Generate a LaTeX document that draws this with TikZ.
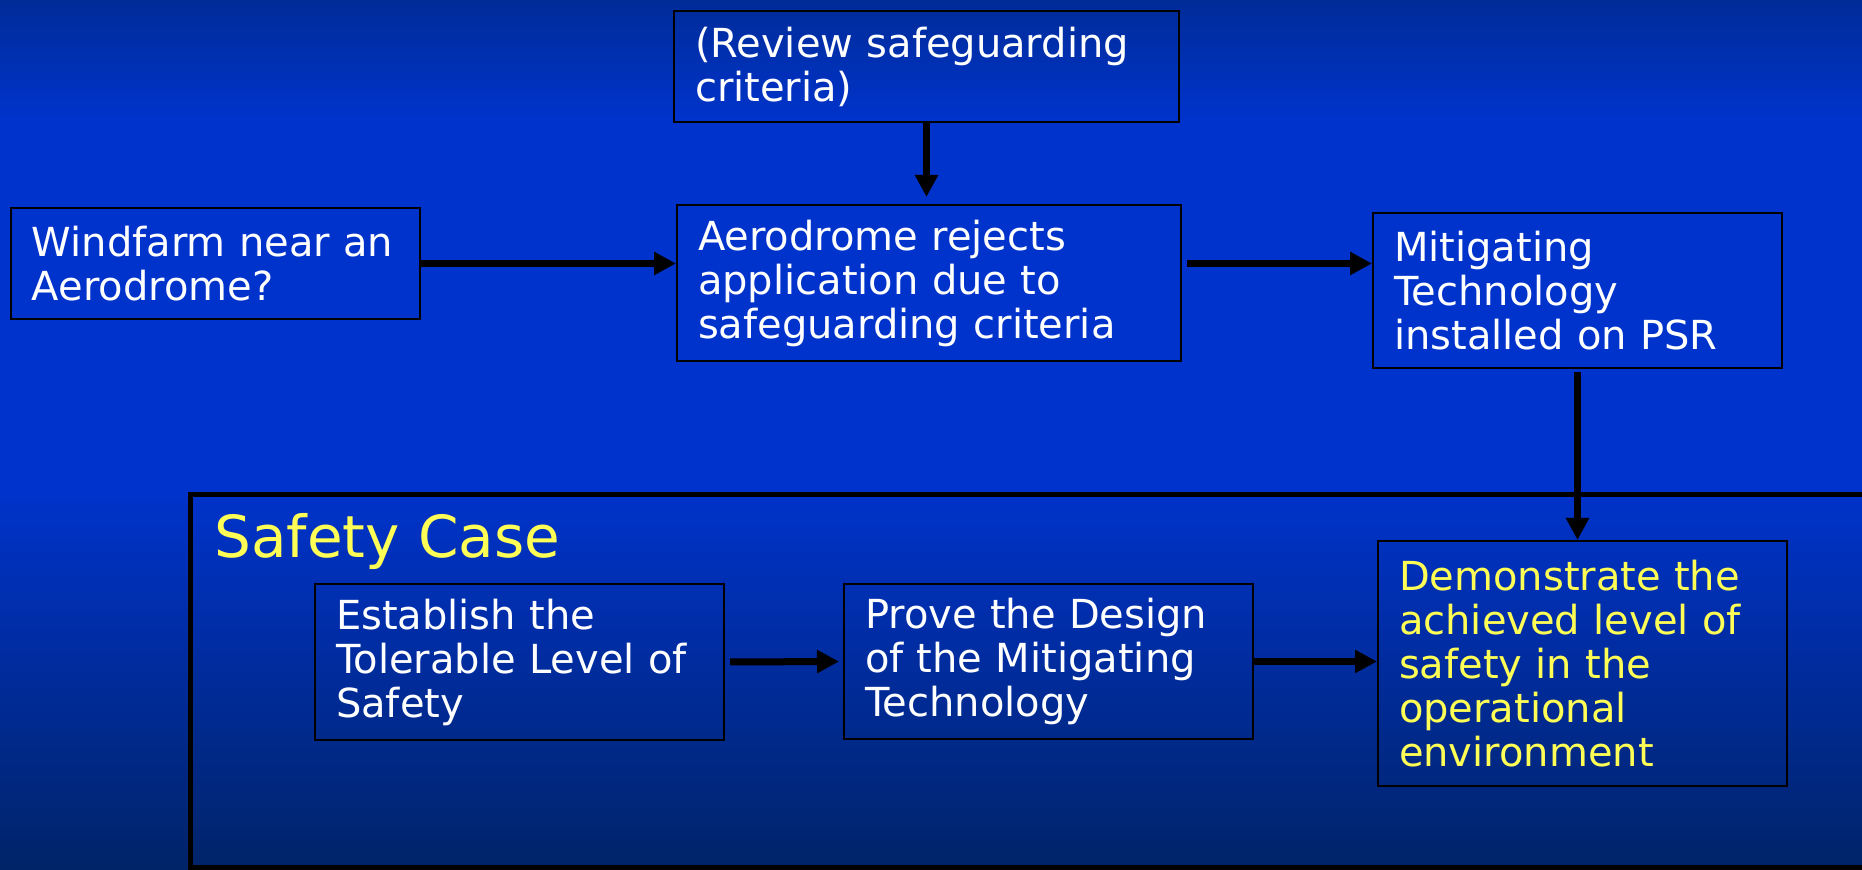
\documentclass[tikz,border=0pt]{standalone}
\usepackage{fontspec}
\setmainfont{DejaVu Sans}
\usetikzlibrary{positioning,arrows.meta}
\definecolor{slidetop}{RGB}{0,44,152}
\definecolor{slidemid}{RGB}{0,51,204}
\definecolor{slidebot}{RGB}{0,36,104}
\definecolor{caseyellow}{RGB}{255,255,85}
\pgfdeclareverticalshading{slidebg}{100bp}{color(0bp)=(slidebot); color(25bp)=(slidebot); color(47bp)=(slidemid); color(68bp)=(slidemid); color(75bp)=(slidetop); color(100bp)=(slidetop)}

\begin{document}
\begin{tikzpicture}[x=0.5pt, y=-0.5pt,
    box/.style={draw, line width=1pt, anchor=north west, align=left, text=white, inner xsep=10.5pt, inner ysep=2pt, text width=183.5pt, font=\fontsize{20}{22}\selectfont},
    flow/.style={line width=3.5pt, -{Triangle[length=11pt,width=11pt]}}]
  \shade[shading=slidebg] (0,0) rectangle (1862,870);
  \useasboundingbox (0,0) rectangle (1862,870);

  % top row
  \node [box, text width=231.5pt, minimum height=55.5pt] (review) at (673,10) {(Review safeguarding\\criteria)};
  \node [box, minimum height=55.5pt] (wind) at (10,207) {Windfarm near an\\Aerodrome?};
  \node [box, text width=231pt, minimum height=78pt] (aero) at (676,204) {Aerodrome rejects\\application due to\\safeguarding criteria};
  \node [box, minimum height=77.5pt] (mitig) at (1372,212) {Mitigating\\Technology\\installed on PSR};

  % safety case
  \draw [line width=2.5pt] (190,495) rectangle (1890,867);
  \node [anchor=base west, inner sep=0pt, text=caseyellow, font=\fontsize{29}{32}\selectfont] (casetitle) at (214,558) {Safety Case};
  \node [box, minimum height=78pt] (estab) at (314,583) {Establish the\\Tolerable Level of\\Safety};
  \node [box, minimum height=77.5pt, right=59pt of estab.north east, anchor=north west] (prove) {Prove the Design\\of the Mitigating\\Technology};
  \node [box, text=caseyellow, minimum height=122.5pt] (demo) at (1377,540) {Demonstrate the\\achieved level of\\safety in the\\operational\\environment};

  \draw [flow] (wind.east) -- (wind.east -| aero.west);
  \draw [flow] (review.south) -- ([yshift=3.5pt]review.south |- aero.north);
  \draw [flow] ([xshift=2.5pt]aero.east |- wind.east) -- (mitig.west |- wind.east);
  \draw [flow] ([yshift=-1.5pt]mitig.south) -- (mitig.south |- demo.north);
  \draw [flow] ([xshift=2.5pt]estab.east) -- ([xshift=-2pt]prove.west);
  \draw [flow] (prove.east) -- (prove.east -| demo.west);
\end{tikzpicture}
\end{document}
